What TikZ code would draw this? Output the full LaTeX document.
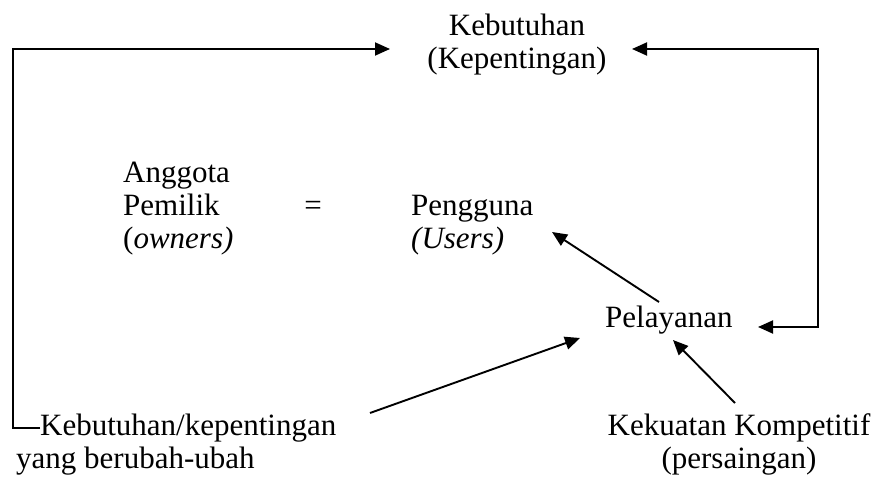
\documentclass[tikz,border=0pt]{standalone}
\usepackage{fontspec}
\setmainfont{Liberation Serif}
\usetikzlibrary{arrows.meta}
\tikzset{
  txt/.style={inner sep=0pt, font=\fontsize{31}{33}\selectfont},
  link/.style={line width=1.9pt},
  arr/.style={link, -{Triangle[length=15pt,width=13pt]}},
  arrs/.style={link, {Triangle[length=15pt,width=13pt]}-{Triangle[length=15pt,width=13pt]}}
}
\begin{document}
\begin{tikzpicture}[x=1pt,y=1pt]
	\useasboundingbox (0,0) rectangle (879,-481);
	% texts
	\node[txt,anchor=north,align=center] (need) at (517,-13.8) {Kebutuhan\\(Kepentingan)};
	\node[txt,anchor=north west,align=left] (own) at (123,-162) {Anggota\\Pemilik\\(\textit{owners)}};
	\node[txt,anchor=base] (eq) at (313,-216) {=};
	\node[txt,anchor=north west,align=left] (usr) at (411,-195.5) {Pengguna\\\textit{(Users)}};
	\node[txt,anchor=base west] (serv) at (605,-327) {Pelayanan};
	\node[txt,anchor=base west] (chg) at (40,-435) {Kebutuhan/kepentingan};
	\node[txt,anchor=base west] (chgb) at (16,-468) {yang berubah-ubah};
	\node[txt,anchor=north,align=center] (comp) at (739,-413.8) {Kekuatan Kompetitif\\(persaingan)};
	% arrow ends
	\coordinate (needL) at (390,-49);	\coordinate (needR) at (632,-49);
	\coordinate (servR) at (758,-327);
	\coordinate (servT) at (659,-302);	\coordinate (usrIn) at (552,-232);
	\coordinate (chgOut) at (370,-413);	\coordinate (servL) at (580,-338);
	\coordinate (compOut) at (735,-403);	\coordinate (servB) at (673,-340);
	% loops
	\draw[arr] (chg.west) -| (13,-49) -- (needL);
	\draw[arrs] (needR) -| (818,-327) -- (servR);
	% arrows
	\draw[arr] (servT) -- (usrIn);
	\draw[arr] (chgOut) -- (servL);
	\draw[arr] (compOut) -- (servB);
\end{tikzpicture}
\end{document}
